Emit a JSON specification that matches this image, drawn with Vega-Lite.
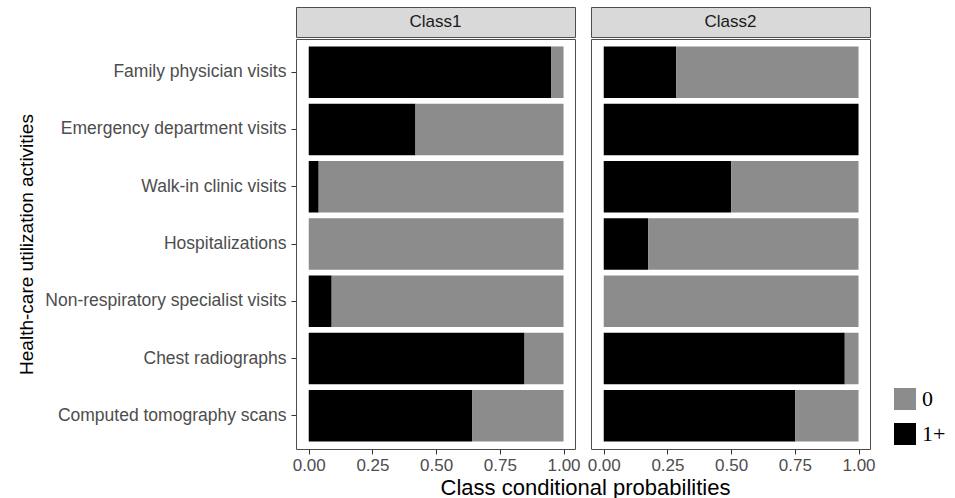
{
  "$schema": "https://vega.github.io/schema/vega-lite/v6.json",
  "background": "white",
  "padding": {"left": 16, "top": 6, "right": 10, "bottom": 1},
  "title": {"text": "Class conditional probabilities", "orient": "bottom", "anchor": "middle", "frame": "bounds", "dx": 104, "fontSize": 22, "fontWeight": "normal", "font": "Liberation Sans", "color": "#000000", "offset": 4},
  "datasets": {
    "probs": [
      {"activity": "Family physician visits", "cls": "Class1", "level": "1+", "p": 0.951},
      {"activity": "Family physician visits", "cls": "Class1", "level": "0", "p": 0.049},
      {"activity": "Emergency department visits", "cls": "Class1", "level": "1+", "p": 0.419},
      {"activity": "Emergency department visits", "cls": "Class1", "level": "0", "p": 0.581},
      {"activity": "Walk-in clinic visits", "cls": "Class1", "level": "1+", "p": 0.039},
      {"activity": "Walk-in clinic visits", "cls": "Class1", "level": "0", "p": 0.961},
      {"activity": "Hospitalizations", "cls": "Class1", "level": "1+", "p": 0.0},
      {"activity": "Hospitalizations", "cls": "Class1", "level": "0", "p": 1.0},
      {"activity": "Non-respiratory specialist visits", "cls": "Class1", "level": "1+", "p": 0.09},
      {"activity": "Non-respiratory specialist visits", "cls": "Class1", "level": "0", "p": 0.91},
      {"activity": "Chest radiographs", "cls": "Class1", "level": "1+", "p": 0.847},
      {"activity": "Chest radiographs", "cls": "Class1", "level": "0", "p": 0.153},
      {"activity": "Computed tomography scans", "cls": "Class1", "level": "1+", "p": 0.641},
      {"activity": "Computed tomography scans", "cls": "Class1", "level": "0", "p": 0.359},
      {"activity": "Family physician visits", "cls": "Class2", "level": "1+", "p": 0.285},
      {"activity": "Family physician visits", "cls": "Class2", "level": "0", "p": 0.715},
      {"activity": "Emergency department visits", "cls": "Class2", "level": "1+", "p": 1.0},
      {"activity": "Emergency department visits", "cls": "Class2", "level": "0", "p": 0.0},
      {"activity": "Walk-in clinic visits", "cls": "Class2", "level": "1+", "p": 0.5},
      {"activity": "Walk-in clinic visits", "cls": "Class2", "level": "0", "p": 0.5},
      {"activity": "Hospitalizations", "cls": "Class2", "level": "1+", "p": 0.174},
      {"activity": "Hospitalizations", "cls": "Class2", "level": "0", "p": 0.826},
      {"activity": "Non-respiratory specialist visits", "cls": "Class2", "level": "1+", "p": 0.0},
      {"activity": "Non-respiratory specialist visits", "cls": "Class2", "level": "0", "p": 1.0},
      {"activity": "Chest radiographs", "cls": "Class2", "level": "1+", "p": 0.946},
      {"activity": "Chest radiographs", "cls": "Class2", "level": "0", "p": 0.054},
      {"activity": "Computed tomography scans", "cls": "Class2", "level": "1+", "p": 0.752},
      {"activity": "Computed tomography scans", "cls": "Class2", "level": "0", "p": 0.248}
    ]
  },
  "config": {
    "font": "Liberation Sans",
    "view": {"stroke": "#4d4d4d", "strokeWidth": 1},
    "axis": {
      "labelColor": "#4d4d4d",
      "tickColor": "#333333",
      "domain": false,
      "grid": false,
      "labelFontSize": 17,
      "titleFontSize": 22,
      "titleFontWeight": "normal",
      "titleColor": "#000000",
      "tickSize": 5,
      "labelPadding": 3,
      "labelFlush": false,
      "labelOverlap": false,
      "labelLimit": 400
    },
    "legend": {"padding": 0}
  },
  "spacing": 5,
  "resolve": {"scale": {"color": "shared"}, "legend": {"color": "independent"}},
  "hconcat": [
    {
      "spacing": 0,
      "resolve": {"scale": {"color": "shared"}, "legend": {"color": "independent"}},
      "vconcat": [
        {
          "width": 279,
          "height": 30,
          "data": {"values": [{"label": "Class1"}]},
          "view": {"fill": "#d9d9d9", "stroke": "#4d4d4d"},
          "mark": {"type": "text", "fontSize": 17, "color": "#1a1a1a"},
          "encoding": {"text": {"field": "label"}}
        },
        {
          "width": 279,
          "height": 410,
          "data": {"name": "probs"},
          "transform": [{"filter": "datum.cls === 'Class1'"}],
          "mark": {"type": "bar"},
          "encoding": {
            "y": {
              "field": "activity",
              "type": "nominal",
              "sort": ["Family physician visits", "Emergency department visits", "Walk-in clinic visits", "Hospitalizations", "Non-respiratory specialist visits", "Chest radiographs", "Computed tomography scans"],
              "scale": {"paddingInner": 0.1, "paddingOuter": 0.13},
              "axis": {"title": "Health-care utilization activities", "labelFontSize": 17.5, "titleFontSize": 19, "titlePadding": 60, "labelPadding": 5}
            },
            "x": {
              "field": "p",
              "type": "quantitative",
              "stack": "zero",
              "scale": {"domain": [-0.05, 1.045], "nice": false, "zero": false},
              "axis": {"values": [0, 0.25, 0.5, 0.75, 1], "format": ".2f", "title": null}
            },
            "color": {
              "field": "level",
              "type": "nominal",
              "scale": {"domain": ["0", "1+"], "range": ["#8c8c8c", "#000000"]},
              "legend": null
            },
            "order": {"field": "level", "sort": "descending"}
          }
        }
      ]
    },
    {
      "spacing": 0,
      "resolve": {"scale": {"color": "shared"}, "legend": {"color": "independent"}},
      "vconcat": [
        {
          "width": 279,
          "height": 30,
          "data": {"values": [{"label": "Class2"}]},
          "view": {"fill": "#d9d9d9", "stroke": "#4d4d4d"},
          "mark": {"type": "text", "fontSize": 17, "color": "#1a1a1a"},
          "encoding": {"text": {"field": "label"}}
        },
        {
          "width": 279,
          "height": 410,
          "data": {"name": "probs"},
          "transform": [{"filter": "datum.cls === 'Class2'"}],
          "mark": {"type": "bar"},
          "encoding": {
            "y": {
              "field": "activity",
              "type": "nominal",
              "sort": ["Family physician visits", "Emergency department visits", "Walk-in clinic visits", "Hospitalizations", "Non-respiratory specialist visits", "Chest radiographs", "Computed tomography scans"],
              "scale": {"paddingInner": 0.1, "paddingOuter": 0.13},
              "axis": null
            },
            "x": {
              "field": "p",
              "type": "quantitative",
              "stack": "zero",
              "scale": {"domain": [-0.05, 1.045], "nice": false, "zero": false},
              "axis": {"values": [0, 0.25, 0.5, 0.75, 1], "format": ".2f", "title": null}
            },
            "color": {
              "field": "level",
              "type": "nominal",
              "scale": {"domain": ["0", "1+"], "range": ["#8c8c8c", "#000000"]},
              "legend": {
                "title": null,
                "orient": "none",
                "legendX": 303,
                "legendY": 349,
                "symbolType": "square",
                "symbolSize": 484,
                "symbolStrokeWidth": 0,
                "labelFont": "Liberation Serif",
                "labelFontSize": 22,
                "labelColor": "#000000",
                "rowPadding": 13,
                "labelOffset": 6
              }
            },
            "order": {"field": "level", "sort": "descending"}
          }
        }
      ]
    }
  ]
}
